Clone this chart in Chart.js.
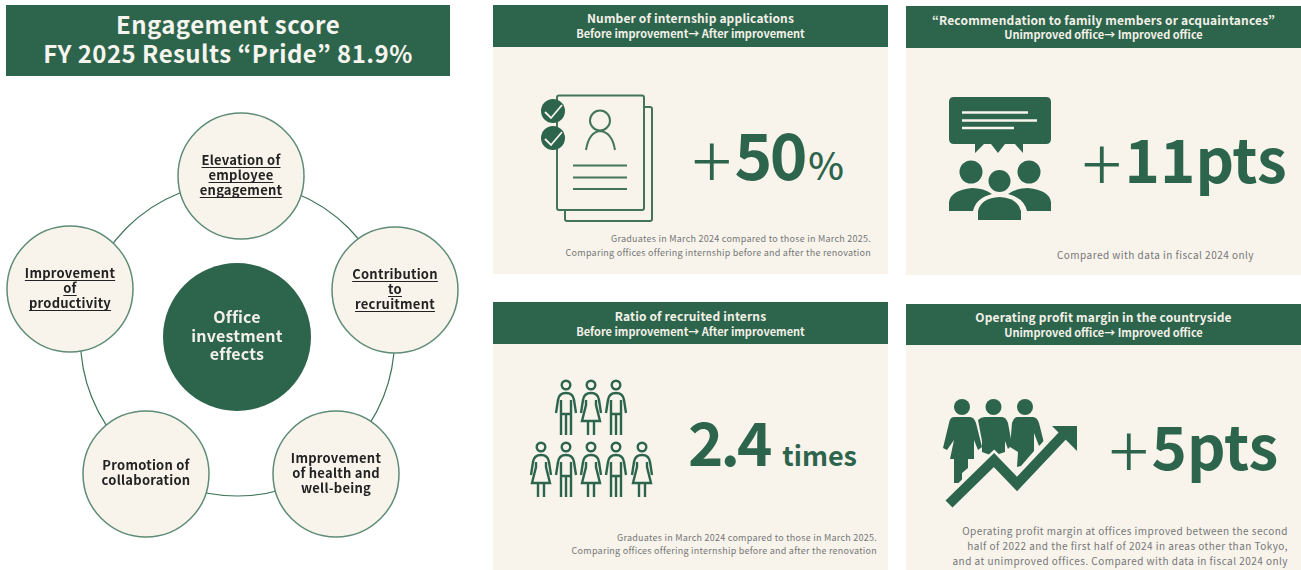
<!DOCTYPE html>
<html lang="en">
<head>
<meta charset="utf-8">
<title>Office investment effects</title>
<script src="https://cdn.jsdelivr.net/npm/chart.js@4"></script>
<style>
  html, body { margin: 0; padding: 0; background: #fff; }
  body { position: relative; width: 1301px; height: 570px; overflow: hidden;
         font-family: "Noto Sans CJK JP", "Noto Sans", sans-serif; }
  .abs { position: absolute; }
  .band { background: #2d654c; color: #f3f0e8; text-align: center; font-weight: 700; }
  .sheet { background: #f8f4ec; }
  .line { position: absolute; white-space: nowrap; }
  .note { position: absolute; white-space: nowrap; text-align: right; color: #767676; }
  .stat { position: absolute; white-space: nowrap; color: #2d654c; font-weight: 700; line-height: 1; }
  .stat .plus { position: relative; top: 9px; font-weight: 300; font-size: 74px; line-height: 0; letter-spacing: 0; margin-right: 3px; }
  #diagram { position: absolute; left: 0; top: 90px; }
  #icons { position: absolute; left: 0; top: 0; z-index: 2; }
</style>
</head>
<body>
<canvas id="diagram" width="480" height="480"></canvas>

<svg id="icons" width="1301" height="570" viewBox="0 0 1301 570" xmlns="http://www.w3.org/2000/svg"></svg>

<script>
const headline = ["Engagement score", "FY 2025 Results \u201cPride\u201d 81.9%"];

// ring diagram
const nodeLabels = [
    ["Elevation of", "employee", "engagement"],
    ["Contribution", "to", "recruitment"],
    ["Improvement", "of health and", "well-being"],
    ["Promotion of", "collaboration"],
    ["Improvement", "of", "productivity"],
];
const nodeX = [241, 395, 336, 146, 70];
const nodeY = [176, 290, 474, 474, 289];
const underlinedNodes = [0, 1, 4];
const hubLabel = ["Office", "investment", "effects"];

// result panels
const panelTitles = [
    "Number of internship applications",
    "\u201cRecommendation to family members or acquaintances\u201d",
    "Ratio of recruited interns",
    "Operating profit margin in the countryside",
];
const panelSubtitles = [
    "Before improvement\u2192 After improvement",
    "Unimproved office\u2192 Improved office",
    "Before improvement\u2192 After improvement",
    "Unimproved office\u2192 Improved office",
];
const statValues = ["50", "11", "2.4", "5"];
const statUnits = ["%", "pts", "times", "pts"];
const panelNotes = [
    ["Graduates in March 2024 compared to those in March 2025.", "Comparing offices offering internship before and after the renovation"],
    ["Compared with data in fiscal 2024 only"],
    ["Graduates in March 2024 compared to those in March 2025.", "Comparing offices offering internship before and after the renovation"],
    ["Operating profit margin at offices improved between the second", "half of 2022 and the first half of 2024 in areas other than Tokyo,", "and at unimproved offices. Compared with data in fiscal 2024 only"],
];

const GREEN = "#2d654c";
const CREAM = "#f8f4ec";

function addEl(cls, css, html) {
    const el = document.createElement("div");
    el.className = cls;
    el.style.cssText = css;
    el.innerHTML = html || "";
    document.body.appendChild(el);
    return el;
}

// headline box
addEl("abs band", "left:6px;top:5px;width:444px;height:71px;");
addEl("abs band", "left:6px;top:9px;width:444px;font-size:24px;line-height:29px;background:none;letter-spacing:.45px;color:#f6f4ee;",
    headline.join("<br>"));

// panel frames
const frames = [
    { x: 493, y: 5, h: 42, b: 274, titleY: 10, subY: 26, noteY: [233, 247], noteR: 871, noteSize: 9, noteGap: .25 },
    { x: 906, y: 6, h: 42, b: 275, titleY: 12, subY: 27, noteY: [249], noteR: 1254, noteSize: 10, noteGap: .47 },
    { x: 493, y: 302, h: 42, b: 570, titleY: 308, subY: 324, noteY: [532, 545], noteR: 877, noteSize: 9, noteGap: .25 },
    { x: 906, y: 304, h: 41, b: 570, titleY: 309, subY: 325, noteY: [525, 540, 555], noteR: 1288, noteSize: 10, noteGap: .46 },
];
frames.forEach(function (f, i) {
    addEl("abs sheet", "left:" + f.x + "px;top:" + f.y + "px;width:395px;height:" + (f.b - f.y) + "px;");
    addEl("abs band", "left:" + f.x + "px;top:" + f.y + "px;width:395px;height:" + f.h + "px;");
    addEl("line", "left:" + f.x + "px;width:395px;top:" + f.titleY + "px;font-size:12px;line-height:16px;font-weight:700;text-align:center;color:#f3f0e8;letter-spacing:.15px;",
        panelTitles[i]);
    addEl("line", "left:" + f.x + "px;width:395px;top:" + f.subY + "px;font-size:11px;line-height:15px;font-weight:700;text-align:center;color:#f3f0e8;",
        panelSubtitles[i]);
    panelNotes[i].forEach(function (txt, k) {
        addEl("note", "right:" + (1301 - f.noteR) + "px;top:" + (f.noteY[k] - 1) + "px;line-height:14px;font-size:" + f.noteSize + "px;letter-spacing:" + f.noteGap + "px;", txt);
    });
});

// big figures
addEl("stat", "left:692px;top:120px;font-size:64px;letter-spacing:-2.5px;", '<span class="plus">+</span>' + statValues[0] + '<span style="font-size:38px;font-weight:500;letter-spacing:0;margin-left:3px">' + statUnits[0] + "</span>");
addEl("stat", "left:1082px;top:127px;font-size:60px;", '<span class="plus">+</span>' + statValues[1] + statUnits[1]);
addEl("stat", "left:688px;top:410px;font-size:60px;letter-spacing:-3px;", statValues[2] + '<span style="font-size:27px;margin-left:13px;letter-spacing:0">' + statUnits[2] + "</span>");
addEl("stat", "left:1109px;top:414px;font-size:60px;", '<span class="plus">+</span>' + statValues[3] + statUnits[3]);

// icon drawing
function man(x, y) {
    return '<g transform="translate(' + x + "," + y + ')" fill="none" stroke="' + GREEN + '" stroke-width="2.4">' +
        '<circle cx="0" cy="0" r="4.3"/>' +
        '<path d="M-10 28 L-8 15 Q-7 8 0 8 Q7 8 8 15 L10 28"/>' +
        '<path d="M-5 15 V50 M5 15 V50 M-5 29 H5 M0 29 V50"/></g>';
}
function woman(x, y) {
    return '<g transform="translate(' + x + "," + y + ')" fill="none" stroke="' + GREEN + '" stroke-width="2.4">' +
        '<circle cx="0" cy="0" r="4.3"/>' +
        '<path d="M-10 28 L-8 15 Q-7 8 0 8 Q7 8 8 15 L10 28"/>' +
        '<path d="M-5 15 V20 L-9 36 H9 L5 20 V15 M-3 36 V50 M3 36 V50"/></g>';
}

const docIcon =
    '<g fill="none" stroke="#427559" stroke-width="2">' +
    '<path d="M644 107 H650 Q652 107 652 109 V219 Q652 221 650 221 H567 Q565 221 565 219 V210"/>' +
    '<rect x="557" y="95.5" width="87" height="114.5" rx="2" fill="' + CREAM + '"/>' +
    '<circle cx="600" cy="120.5" r="10"/>' +
    '<path d="M586 150 Q589 132 600 131 Q612 132 615 150"/>' +
    '<path d="M573 165.5 H627 M573 177.5 H627 M573 189 H627"/></g>' +
    '<circle cx="553" cy="111" r="12" fill="' + GREEN + '"/><circle cx="553" cy="138" r="12" fill="' + GREEN + '"/>' +
    '<path d="M545 112 L551 118 L562 105 M545 139 L551 145 L562 132" fill="none" stroke="' + CREAM + '" stroke-width="1.8"/>';

const chatIcon =
    '<path d="M954 97 H1046 Q1051 97 1051 102 V139 Q1051 144 1046 144 H1023 V153 L1015 144 H1005 L998 153 L991 144 H984 L975 153 V144 H954 Q949 144 949 139 V102 Q949 97 954 97 Z" fill="' + GREEN + '"/>' +
    '<path d="M962 112.5 H1028 M962 120.5 H1037 M962 128 H1014" stroke="' + CREAM + '" stroke-width="2.4"/>' +
    '<circle cx="971" cy="172" r="11.5" fill="' + GREEN + '"/><circle cx="1029" cy="172" r="11.5" fill="' + GREEN + '"/>' +
    '<circle cx="999.5" cy="181" r="11" fill="' + GREEN + '"/>' +
    '<path d="M949 211 V202 Q951 190 972 188 Q984 188 992 194 Q976 198 973 211 Z" fill="' + GREEN + '"/>' +
    '<path d="M1051 211 V202 Q1049 190 1028 188 Q1016 188 1008 194 Q1024 198 1027 211 Z" fill="' + GREEN + '"/>' +
    '<path d="M978 220 V211 Q981 198 999.5 197 Q1018 198 1021 211 V220 Z" fill="' + GREEN + '"/>';

const crowdIcon =
    man(566, 385) + woman(591, 385) + man(616, 385) +
    woman(541, 447) + man(566, 447) + woman(591, 447) + man(616, 447) + woman(642, 447);

const growthIcon =
    '<g fill="' + GREEN + '">' +
    '<circle cx="962" cy="407" r="8"/><circle cx="993.5" cy="407" r="8"/><circle cx="1025" cy="407" r="8"/>' +
    '<path d="M954 417 H970 Q974 417 976 423 L982 447 L978 450 L974 440 L974 459 H968 V468 L962 473 V483 H954 V459 H950 L954 440 L947 450 L943 448 L949 423 Q950 417 954 417 Z"/>' +
    '<path d="M985 417 H1002 Q1006 417 1008 423 L1012 445 L1008 449 L1005 441 V452 L993 456 L982 452 V441 L978 420 Q981 417 985 417 Z"/>' +
    '<path d="M1017 417 H1033 Q1037 417 1039 423 L1044 443 L1039 446 L1034 433 V451 L1021 466 L1017 467 L1018 452 L1010 447 L1012 423 Q1014 417 1017 417 Z"/>' +
    '</g>' +
    '<path d="M949 504 L994 462 L1017 485 L1060 436" fill="none" stroke="' + CREAM + '" stroke-width="18"/>' +
    '<path d="M949 504 L994 460 L1017 484 L1066 432" fill="none" stroke="' + GREEN + '" stroke-width="10"/>' +
    '<path d="M1052 426 H1077 V451 Z" fill="' + GREEN + '"/>';

document.getElementById("icons").innerHTML = docIcon + chatIcon + crowdIcon + growthIcon;

// node captions, drawn over the bubbles
const nodeCaptions = {
    id: "nodeCaptions",
    afterDatasetsDraw: function (chart) {
        const ctx = chart.ctx;
        ctx.save();
        ctx.textAlign = "center";
        ctx.textBaseline = "middle";

        const nodes = chart.getDatasetMeta(2).data;
        ctx.font = '700 13px "Noto Sans CJK JP", "Noto Sans", sans-serif';
        ctx.letterSpacing = "0.25px";
        ctx.fillStyle = "#222";
        nodes.forEach(function (pt, i) {
            const lines = nodeLabels[i];
            const top = pt.y - (lines.length - 1) * 7.5 - 1;
            lines.forEach(function (txt, k) {
                const y = top + k * 15;
                ctx.fillText(txt, pt.x, y);
                if (underlinedNodes.includes(i)) {
                    const w = ctx.measureText(txt).width;
                    ctx.fillRect(pt.x - w / 2, y + 7, w, 1);
                }
            });
        });

        const hub = chart.getDatasetMeta(1).data[0];
        ctx.font = '700 16px "Noto Sans CJK JP", "Noto Sans", sans-serif';
        ctx.letterSpacing = "0.2px";
        ctx.fillStyle = "#f3f0e8";
        hubLabel.forEach(function (txt, k) {
            ctx.fillText(txt, hub.x, hub.y - 20 + k * 18.5);
        });
        ctx.restore();
    },
};

new Chart(document.getElementById("diagram"), {
    type: "bubble",
    data: {
        datasets: [
            // higher order is painted first, so the ring ends up under the nodes
            {
                data: [{ x: 237.5, y: 339, r: 157 }],
                backgroundColor: "rgba(0,0,0,0)",
                borderColor: "#3f7459",
                borderWidth: 1.2,
                clip: false,
                order: 3,
            },
            {
                data: [{ x: 237, y: 337, r: 74 }],
                backgroundColor: GREEN,
                borderWidth: 0,
                clip: false,
                order: 2,
            },
            {
                data: nodeX.map(function (x, i) { return { x: x, y: nodeY[i], r: 63 }; }),
                backgroundColor: CREAM,
                borderColor: "#5f8c76",
                borderWidth: 1.5,
                clip: false,
                order: 1,
            },
        ],
    },
    options: {
        responsive: false,
        animation: false,
        events: [],
        // big ring must not shrink the plot area
        layout: { padding: 0, autoPadding: false },
        plugins: { legend: { display: false }, tooltip: { enabled: false } },
        scales: {
            x: { display: false, min: 0, max: 480 },
            y: { display: false, min: 90, max: 570, reverse: true },
        },
    },
    plugins: [nodeCaptions],
});
</script>
</body>
</html>
